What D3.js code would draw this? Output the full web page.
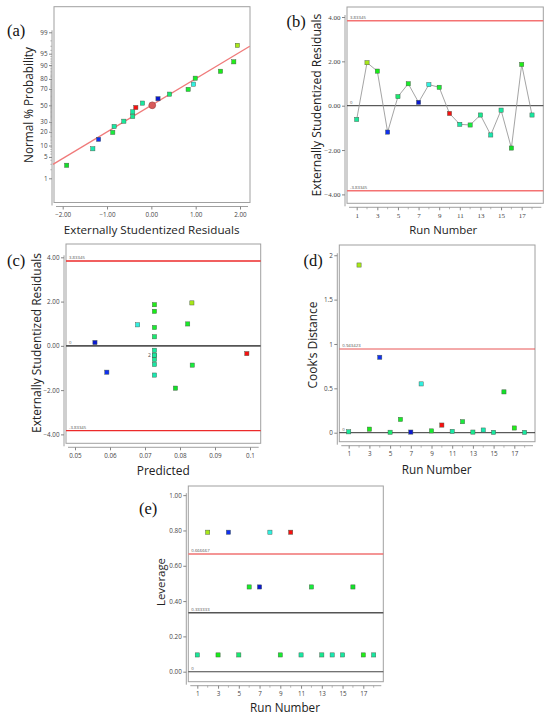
<!DOCTYPE html>
<html><head><meta charset="utf-8">
<script src="https://cdn.jsdelivr.net/npm/d3@7"></script>
<style>body{margin:0;background:#fff}svg{display:block}</style>
</head><body>
<svg id="chart" width="550" height="721"></svg>
<script>
// ---------------- data ----------------
const runs = [1,2,3,4,5,6,7,8,9,10,11,12,13,14,15,16,17,18];
const residuals = [-0.62,1.94,1.56,-1.19,0.41,0.99,0.15,0.95,0.83,-0.35,-0.84,-0.87,-0.42,-1.32,-0.20,-1.91,1.86,-0.42];
const predicted = [0.0727,0.0834,0.0727,0.0591,0.0727,0.0822,0.0557,0.0679,0.0727,0.0991,0.0727,0.0835,0.0727,0.0727,0.0727,0.0787,0.0727,0.0727];
const cooks = [0.010,1.89,0.040,0.85,0.005,0.150,0.007,0.55,0.020,0.086,0.015,0.124,0.007,0.030,0.004,0.46,0.053,0.004];
const leverage = [0.095,0.79,0.095,0.79,0.095,0.48,0.48,0.79,0.095,0.79,0.095,0.48,0.095,0.095,0.095,0.48,0.095,0.095];
const pointColors = ["#18e89a","#a8e818","#18ec18","#1030f0","#18ea70","#18ec28","#0a18d0","#30f0e0","#18ec30","#f81010","#18e8a4","#18ec3c","#18e890","#18e8b0","#18e8a0","#12e028","#20ee18","#18e8a0"];
// normal % probability of the ranked residuals
const normalProb = [2.8,8.3,13.9,19.4,25,30.6,36.1,41.7,47.2,52.8,58.3,63.9,69.4,75,80.6,86.1,91.7,97.2];
const fitLineX = [-2.22, 2.22];
const fitLineP = [3.0, 97.0];
const centerMark = {x:0.02, p:50};
const tLimit = 3.83345;
const cookLimit = 0.943423;
const levHigh = 0.666667, levMid = 0.333333;
const probTicks = [1,5,10,20,30,50,70,80,90,95,99];
const residTicksA = [-2,-1,0,1,2];
const residTicks = [-4,-2,0,2,4];
const predTicks = [0.05,0.06,0.07,0.08,0.09,0.1];
const cookTicks = [0,0.5,1,1.5,2];
const levTicks = [0,0.2,0.4,0.6,0.8,1.0];
const runLabelTicks = [1,3,5,7,9,11,13,15,17];

// ---------------- helpers ----------------
function qnorm(p){
  const a=[-3.969683028665376e+01,2.209460984245205e+02,-2.759285104469687e+02,1.383577518672690e+02,-3.066479806614716e+01,2.506628277459239e+00];
  const b=[-5.447609879822406e+01,1.615858368580409e+02,-1.556989798598866e+02,6.680131188771972e+01,-1.328068155288572e+01];
  const c=[-7.784894002430293e-03,-3.223964580411365e-01,-2.400758277161838e+00,-2.549732539343734e+00,4.374664141464968e+00,2.938163982698783e+00];
  const d=[7.784695709041462e-03,3.224671290700398e-01,2.445134137142996e+00,3.754408661907416e+00];
  const pl=0.02425, ph=1-pl; let q,r;
  if(p<pl){q=Math.sqrt(-2*Math.log(p));return (((((c[0]*q+c[1])*q+c[2])*q+c[3])*q+c[4])*q+c[5])/((((d[0]*q+d[1])*q+d[2])*q+d[3])*q+1);}
  if(p<=ph){q=p-0.5;r=q*q;return (((((a[0]*r+a[1])*r+a[2])*r+a[3])*r+a[4])*r+a[5])*q/(((((b[0]*r+b[1])*r+b[2])*r+b[3])*r+b[4])*r+1);}
  q=Math.sqrt(-2*Math.log(1-p));return -(((((c[0]*q+c[1])*q+c[2])*q+c[3])*q+c[4])*q+c[5])/((((d[0]*q+d[1])*q+d[2])*q+d[3])*q+1);
}
const svg = d3.select("#chart");
svg.append("rect").attr("width",550).attr("height",721).attr("fill","#fff");
const SANS = "'Open Sans', 'Noto Sans', sans-serif";
const SERIF = "'Liberation Serif', 'DejaVu Serif', serif";

function frame(f){
  svg.append("rect").attr("x",f.l).attr("y",f.t).attr("width",f.r-f.l).attr("height",f.b-f.t)
    .attr("fill","none").attr("stroke","#a0a0a0").attr("stroke-width",1);
}
function styleAxis(g, font, size){
  g.select(".domain").remove();
  g.selectAll(".tick line").attr("stroke","#666").attr("stroke-width",0.8);
  g.selectAll(".tick text").attr("font-family",font).attr("font-size",size).attr("fill","#444");
}
function leftAxis(f, scale, ticks, fmt, font, size, topVal){
  const g = svg.append("g").attr("transform",`translate(${f.l-2},0)`)
    .call(d3.axisLeft(scale).tickValues(ticks).tickFormat(fmt).tickSize(3).tickSizeOuter(0).tickPadding(1.5));
  styleAxis(g, font, size);
  g.append("line").attr("x1",0).attr("x2",0).attr("y1",scale(topVal)-2).attr("y2",f.b+3).attr("stroke","#888").attr("stroke-width",0.8);
  return g;
}
function bottomAxis(f, scale, ticks, fmt, font, size, minor){
  const g = svg.append("g").attr("transform",`translate(0,${f.b+4})`)
    .call(d3.axisBottom(scale).tickValues(ticks).tickFormat(fmt).tickSize(3).tickSizeOuter(0).tickPadding(3));
  styleAxis(g, font, size);
  if(minor){
    g.selectAll(".minor").data(minor).join("line").attr("class","minor")
      .attr("x1",d=>scale(d)).attr("x2",d=>scale(d)).attr("y1",0).attr("y2",2)
      .attr("stroke","#888").attr("stroke-width",0.6);
  }
  g.append("line").attr("x1",f.l+2).attr("x2",f.r-2).attr("y1",0).attr("y2",0).attr("stroke","#888").attr("stroke-width",0.8);
  return g;
}
function fitText(t, width){
  const w = t.node().getComputedTextLength();
  const s = parseFloat(t.attr("font-size"));
  t.attr("font-size", s*width/w);
}
function yTitle(txt, x, y, width){
  const t = svg.append("text").attr("transform",`translate(${x},${y}) rotate(-90)`)
    .attr("text-anchor","middle").attr("dominant-baseline","central")
    .attr("font-family",SANS).attr("font-size",12).attr("fill","#222").text(txt);
  fitText(t, width);
}
function xTitle(txt, x, y, width){
  const t = svg.append("text").attr("x",x).attr("y",y).attr("text-anchor","middle")
    .attr("font-family",SANS).attr("font-size",12).attr("fill","#222").text(txt);
  fitText(t, width);
}
function panelLabel(txt, x, y){
  svg.append("text").attr("x",x).attr("y",y).attr("font-family",SERIF).attr("font-size",16.5)
    .attr("fill","#111").text(txt);
}
function hLine(f, y, color, w, label){
  svg.append("line").attr("x1",f.l).attr("x2",f.r).attr("y1",y).attr("y2",y)
    .attr("stroke",color).attr("stroke-width",w);
  if(label!==undefined){
    svg.append("text").attr("x",f.l+3).attr("y",y-2).attr("font-family",SANS).attr("font-size",4.3)
      .attr("fill","#555").text(label);
  }
}
function squares(data, xf, yf){
  const s = 4.2;
  svg.append("g").selectAll("rect").data(data).join("rect")
    .attr("x",d=>xf(d)-s/2).attr("y",d=>yf(d)-s/2).attr("width",s).attr("height",s)
    .attr("fill",d=>pointColors[d.i]).attr("stroke","#4a5a4a").attr("stroke-width",0.45);
}
const pts = runs.map((r,i)=>({i, run:r, res:residuals[i], pred:predicted[i], cook:cooks[i], lev:leverage[i]}));
const f2 = d3.format(".2f");
const minorRuns = [2,4,6,8,10,12,14,16,18];

// ---------------- (a) normal probability ----------------
{
  const f = {l:54, r:250, t:6.7, b:202.5};
  frame(f);
  const x = d3.scaleLinear().domain([-2,2]).range([62.7,240]);
  const z = d3.scaleLinear().domain([0,2.326348]).range([105.3,32.3]);
  const y = p => z(qnorm(p/100));
  const g = leftAxis(f, z, probTicks.map(p=>qnorm(p/100)), (d,i)=>probTicks[i], SANS, 6.3, qnorm(0.99));
  const minors = d3.range(1,100).filter(p=>!probTicks.includes(p));
  g.selectAll(".minor").data(minors).join("line").attr("class","minor")
    .attr("x1",-1.8).attr("x2",0).attr("y1",p=>y(p)).attr("y2",p=>y(p))
    .attr("stroke","#888").attr("stroke-width",0.5);
  bottomAxis(f, x, residTicksA, f2, SANS, 6.3);
  svg.append("line").attr("x1",x(fitLineX[0])).attr("y1",y(fitLineP[0]))
    .attr("x2",x(fitLineX[1])).attr("y2",y(fitLineP[1]))
    .attr("stroke","#f07a7a").attr("stroke-width",1.3);
  const ranked = pts.slice().sort((a,b)=>a.res-b.res).map((d,k)=>({...d, prob:normalProb[k]}));
  squares(ranked, d=>x(d.res), d=>y(d.prob));
  svg.append("circle").attr("cx",x(centerMark.x)).attr("cy",y(centerMark.p)).attr("r",3.4)
    .attr("fill","#d85a5a").attr("stroke","#a04040").attr("stroke-width",0.7);
  yTitle("Normal % Probability", 28.3, 105, 116);
  xTitle("Externally Studentized Residuals", 151.7, 234, 176);
  panelLabel("(a)", 7, 36);
}

// ---------------- (b) residuals vs run ----------------
{
  const f = {l:347, r:543.3, t:7, b:203.3};
  frame(f);
  const x = d3.scaleLinear().domain([1,17]).range([356.7,521.7]);
  const y = d3.scaleLinear().domain([-tLimit,tLimit]).range([190.7,20.7]);
  leftAxis(f, y, residTicks, f2, SERIF, 7, 4);
  bottomAxis(f, x, runLabelTicks, d=>d, SERIF, 7, minorRuns);
  hLine(f, y(tLimit), "#f47272", 1.6, "3.83345");
  hLine(f, y(-tLimit), "#f47272", 1.6, "-3.83345");
  hLine(f, y(0), "#333", 1, "0");
  svg.append("path").datum(pts).attr("fill","none").attr("stroke","#9a9a9a").attr("stroke-width",0.9)
    .attr("d", d3.line().x(d=>x(d.run)).y(d=>y(d.res)));
  squares(pts, d=>x(d.run), d=>y(d.res));
  yTitle("Externally Studentized Residuals", 316.7, 105, 183);
  xTitle("Run Number", 443.3, 233.5, 68);
  panelLabel("(b)", 286.5, 27);
}

// ---------------- (c) residuals vs predicted ----------------
{
  const f = {l:66, r:260.7, t:244, b:443.3};
  frame(f);
  const x = d3.scaleLinear().domain([0.05,0.1]).range([75,250]);
  const y = d3.scaleLinear().domain([-tLimit,tLimit]).range([430.7,261]);
  leftAxis(f, y, residTicks, f2, SANS, 6.3, 4);
  bottomAxis(f, x, predTicks, d=>d3.format("")(+d.toFixed(2)), SANS, 6.3);
  hLine(f, y(tLimit), "#ec2a2a", 1.3, "3.83345");
  hLine(f, y(-tLimit), "#ec2a2a", 1.3, "-3.83345");
  hLine(f, y(0), "#555", 1.8, "0");
  squares(pts, d=>x(d.pred), d=>y(d.res));
  svg.append("text").attr("x",x(predicted[12])-3.5).attr("y",y(residuals[12])).attr("text-anchor","end")
    .attr("dominant-baseline","central").attr("font-family",SANS).attr("font-size",5).attr("fill","#444").text("2");
  yTitle("Externally Studentized Residuals", 36, 343, 180);
  xTitle("Predicted", 163.3, 475, 53);
  panelLabel("(c)", 7, 266);
}

// ---------------- (d) Cook's distance ----------------
{
  const f = {l:339.3, r:535, t:245, b:441.7};
  frame(f);
  const x = d3.scaleLinear().domain([1,17]).range([348.7,514.3]);
  const y = d3.scaleLinear().domain([0,cookLimit]).range([432.7,349]);
  leftAxis(f, y, cookTicks, d=>d, SANS, 6.3, 2);
  bottomAxis(f, x, runLabelTicks, d=>d, SANS, 6.3, minorRuns);
  hLine(f, y(cookLimit), "#e85454", 1, "0.943423");
  hLine(f, y(0), "#333", 1, "0");
  squares(pts, d=>x(d.run), d=>y(d.cook));
  yTitle("Cook\u2019s Distance", 311.7, 345, 87);
  xTitle("Run Number", 436.7, 473.5, 70);
  panelLabel("(d)", 303.5, 266);
}

// ---------------- (e) leverage ----------------
{
  const f = {l:188.3, r:383.3, t:486, b:681.7};
  frame(f);
  const x = d3.scaleLinear().domain([1,17]).range([197.3,363.3]);
  const y = d3.scaleLinear().domain([0,levHigh]).range([671.7,554]);
  leftAxis(f, y, levTicks, f2, SANS, 6.3, 1);
  bottomAxis(f, x, runLabelTicks, d=>d, SANS, 6.3, minorRuns);
  hLine(f, y(levHigh), "#f07272", 1.6, "0.666667");
  hLine(f, y(levMid), "#555", 1.5, "0.333333");
  hLine(f, y(0), "#444", 1.1, "0");
  squares(pts, d=>x(d.run), d=>y(d.lev));
  yTitle("Leverage", 160, 582, 48);
  xTitle("Run Number", 285, 712, 70);
  panelLabel("(e)", 139, 514);
}
</script>
</body></html>
